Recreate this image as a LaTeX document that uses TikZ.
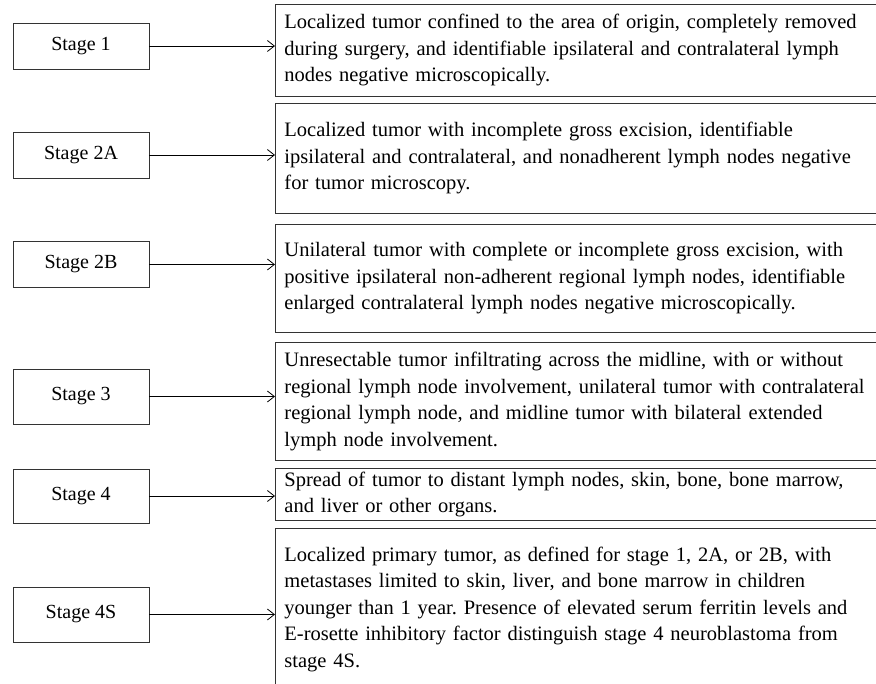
\documentclass[tikz,border=0pt]{standalone}
\usepackage{fontspec}
\setmainfont{Liberation Serif}
\usetikzlibrary{arrows.meta}
\frenchspacing

\begin{document}
\begin{tikzpicture}[
    x=1pt, y=-1pt,
    stage/.style={draw=black!80, line width=0.9pt, minimum width=136pt, minimum height=46pt, inner sep=0pt, font=\fontsize{20}{24}\selectfont},
    desc/.style={draw=black!80, line width=0.9pt, anchor=north west, text width=600pt, align=left, inner xsep=9pt, inner ysep=0pt, font=\fontsize{20.5}{26.5}\selectfont},
    arr/.style={-{Straight Barb[length=7pt,width=11pt]}, line width=0.8pt}
]
\useasboundingbox (0,0) rectangle (876,684);
\clip (0,0) rectangle (876,684);

\node[stage] (S1) at (81,46) {Stage 1};
\node[stage] (S2A) at (81,155) {Stage 2A};
\node[stage] (S2B) at (81,264.5) {Stage 2B};
\node[stage, minimum height=55pt] (S3) at (81,396.5) {Stage 3};
\node[stage, minimum height=54pt] (S4) at (81,496) {Stage 4};
\node[stage, minimum height=55pt] (S4S) at (81,614.5) {Stage 4S};

\node[desc, minimum height=92pt] (D1) at (275,4) {Localized tumor confined to the area of origin, completely removed\\during surgery, and identifiable ipsilateral and contralateral lymph\\nodes negative microscopically.};
\node[desc, minimum height=110pt] (D2) at (275,103) {Localized tumor with incomplete gross excision, identifiable\\ipsilateral and contralateral, and nonadherent lymph nodes negative\\for tumor microscopy.};
\node[desc, minimum height=108pt] (D3) at (275,224) {Unilateral tumor with complete or incomplete gross excision, with\\positive ipsilateral non-adherent regional lymph nodes, identifiable\\enlarged contralateral lymph nodes negative microscopically.};
\node[desc, minimum height=118pt] (D4) at (275,342) {Unresectable tumor infiltrating across the midline, with or without\\regional lymph node involvement, unilateral tumor with contralateral\\regional lymph node, and midline tumor with bilateral extended\\lymph node involvement.};
\node[desc, minimum height=52pt] (D5) at (275,468) {Spread of tumor to distant lymph nodes, skin, bone, bone marrow,\\and liver or other organs.};
\node[desc, minimum height=162pt] (D6) at (275,528) {Localized primary tumor, as defined for stage 1, 2A, or 2B, with\\metastases limited to skin, liver, and bone marrow in children\\younger than 1 year. Presence of elevated serum ferritin levels and\\E-rosette inhibitory factor distinguish stage 4 neuroblastoma from\\stage 4S.};

\draw[arr] (S1.east) -- (S1.east -| D1.west);
\draw[arr] (S2A.east) -- (S2A.east -| D2.west);
\draw[arr] (S2B.east) -- (S2B.east -| D3.west);
\draw[arr] (S3.east) -- (S3.east -| D4.west);
\draw[arr] (S4.east) -- (S4.east -| D5.west);
\draw[arr] (S4S.east) -- (S4S.east -| D6.west);
\end{tikzpicture}
\end{document}
